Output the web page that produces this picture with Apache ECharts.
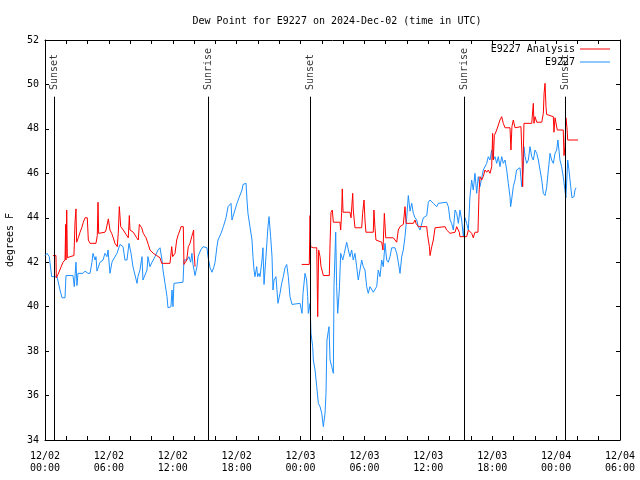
<!DOCTYPE html>
<html><head><meta charset="utf-8">
<script src="https://cdn.jsdelivr.net/npm/echarts@6/dist/echarts.min.js"></script>
<style>html,body{margin:0;padding:0;background:#fff}#c{width:640px;height:480px}</style>
</head><body><div id="c"></div>
<script>
// hours since 2024-12-02 00:00 UTC, dew point (deg F)
const station = [[0,42.3],[0.19,42.4],[0.40,42.25],[0.63,41.35],[1.13,41.35],[1.41,40.75],[1.60,40.4],[1.88,40.4],[1.97,41.4],[2.63,41.4],[2.75,40.9],[2.91,42.0],[3.0,40.95],[3.10,41.5],[3.57,41.5],[3.76,41.6],[4.04,41.5],[4.23,41.5],[4.41,42.0],[4.51,42.4],[4.70,42.1],[4.79,42.25],[4.88,41.6],[5.17,42.0],[5.45,42.1],[5.63,42.4],[5.82,42.25],[5.92,42.55],[6.10,41.5],[6.29,42.0],[6.39,42.1],[6.76,42.4],[7.04,42.8],[7.33,42.7],[7.51,42.1],[7.70,42.1],[7.89,42.85],[8.08,42.4],[8.26,41.8],[8.64,41.05],[8.73,41.35],[8.92,41.65],[9.11,42.25],[9.20,41.2],[9.58,41.65],[9.67,42.25],[9.86,41.8],[10.05,42.0],[10.33,42.25],[10.61,42.55],[10.80,42.65],[10.99,42.1],[11.08,41.65],[11.27,41.05],[11.46,40.45],[11.55,39.95],[11.83,40.0],[11.93,40.75],[12.02,40.0],[12.11,41.05],[12.96,41.1],[13.05,42.1],[13.34,42.1],[13.52,42.25],[13.68,42.0],[13.80,42.4],[13.90,41.9],[14.09,41.4],[14.27,41.8],[14.37,42.25],[14.62,42.55],[14.84,42.7],[15.21,42.65],[15.31,42.25],[15.50,41.75],[15.68,41.55],[15.87,41.8],[15.97,42.0],[16.15,42.7],[16.25,43.0],[16.53,43.3],[16.75,43.6],[17.0,44.0],[17.19,44.5],[17.47,44.65],[17.56,43.9],[17.84,44.35],[18.03,44.65],[18.22,44.9],[18.50,45.25],[18.60,45.5],[18.88,45.55],[18.97,44.8],[19.06,44.2],[19.25,43.6],[19.44,43.0],[19.53,42.25],[19.63,41.65],[19.72,41.35],[19.88,41.8],[19.97,41.35],[20.10,41.5],[20.19,41.35],[20.38,42.1],[20.47,42.65],[20.57,41.0],[20.75,42.25],[20.94,43.6],[21.04,44.05],[21.19,43.15],[21.32,42.25],[21.41,40.75],[21.51,41.2],[21.69,41.35],[21.88,40.15],[22.07,40.6],[22.23,41.05],[22.38,41.35],[22.54,41.75],[22.70,41.9],[22.85,41.35],[23.01,40.45],[23.20,40.1],[23.32,40.15],[23.95,40.15],[24.14,39.7],[24.23,40.6],[24.42,41.5],[24.57,41.2],[24.67,40.45],[24.73,39.7],[24.89,40.15],[24.98,38.8],[25.14,38.2],[25.20,37.6],[25.36,37.15],[25.52,36.4],[25.67,35.65],[25.83,35.5],[25.99,35.2],[26.14,34.6],[26.30,35.2],[26.39,36.1],[26.48,38.5],[26.67,39.1],[26.77,37.6],[26.93,37.3],[27.08,37.0],[27.14,40.9],[27.30,43.35],[27.39,40.9],[27.49,39.7],[27.64,40.75],[27.77,42.4],[27.96,42.1],[28.11,42.4],[28.33,42.9],[28.49,42.55],[28.64,42.25],[28.80,42.55],[28.95,42.1],[29.11,42.4],[29.27,41.8],[29.42,41.2],[29.58,41.65],[29.74,42.1],[29.89,41.8],[30.05,41.65],[30.21,40.9],[30.36,40.6],[30.52,40.9],[30.83,40.65],[30.99,40.6],[31.15,40.9],[31.30,41.65],[31.46,41.35],[31.62,42.1],[31.77,41.8],[31.93,42.85],[32.09,42.1],[32.24,42.0],[32.40,42.25],[32.56,42.65],[32.87,42.65],[33.03,42.4],[33.18,42.0],[33.34,41.5],[33.50,42.25],[33.65,42.55],[33.81,43.15],[33.97,44.0],[34.12,45.0],[34.28,44.3],[34.44,44.65],[34.59,44.2],[34.75,44.0],[34.91,43.9],[35.06,43.6],[35.22,43.45],[35.53,44.0],[35.85,44.1],[36.0,44.7],[36.16,44.8],[36.47,44.65],[36.79,44.5],[36.94,44.65],[37.10,44.7],[37.72,44.7],[37.88,44.5],[38.04,43.9],[38.19,43.75],[38.35,43.45],[38.51,44.35],[38.66,44.2],[38.82,43.75],[38.97,44.35],[39.13,43.9],[39.29,43.15],[39.44,44.0],[39.60,43.75],[39.76,43.45],[39.91,44.95],[40.07,45.7],[40.22,45.25],[40.38,46.0],[40.54,45.1],[40.69,45.85],[40.85,45.4],[41.16,46.15],[41.48,46.45],[41.63,46.75],[41.79,46.6],[41.95,47.05],[42.10,46.6],[42.26,46.75],[42.42,46.45],[42.57,46.75],[42.73,46.3],[42.89,46.75],[43.04,46.45],[43.20,46.6],[43.36,46.15],[43.51,45.55],[43.67,44.95],[43.73,44.5],[43.82,44.8],[43.98,45.4],[44.14,45.7],[44.29,46.15],[44.61,46.25],[44.77,45.4],[44.92,46.3],[44.98,47.2],[45.08,46.75],[45.24,46.45],[45.39,46.6],[45.55,47.2],[45.71,46.75],[45.86,46.6],[46.02,47.05],[46.18,46.9],[46.33,46.6],[46.49,46.15],[46.65,45.7],[46.80,45.1],[46.96,45.0],[47.11,45.35],[47.27,46.15],[47.43,46.9],[47.58,46.6],[47.74,46.45],[47.90,46.9],[48.05,47.05],[48.17,47.5],[48.36,46.6],[48.52,46.3],[48.67,45.85],[48.83,45.25],[48.92,44.9],[49.09,46.6],[49.21,46.15],[49.37,45.4],[49.49,44.9],[49.68,44.95],[49.77,45.25],[49.87,45.35]];

const analysis = [[0.75,42.3],[1.03,42.3],[1.06,41.3],[1.22,41.45],[1.69,42.0],[1.88,42.1],[1.94,43.7],[1.97,42.1],[2.04,44.35],[2.10,42.2],[2.35,42.25],[2.72,42.3],[2.82,43.8],[2.91,44.4],[2.97,42.9],[3.13,43.1],[3.29,43.35],[3.45,43.55],[3.60,43.8],[3.76,44.0],[3.97,44.0],[4.07,43.0],[4.23,42.85],[4.79,42.85],[4.91,43.2],[4.98,44.7],[5.04,43.3],[5.17,43.35],[5.63,43.35],[5.73,43.45],[5.95,43.95],[6.10,43.45],[6.26,43.3],[6.41,43.1],[6.57,42.85],[6.79,42.7],[6.88,43.3],[6.98,44.5],[7.11,43.6],[7.35,43.45],[7.61,43.25],[7.82,43.1],[7.92,44.1],[7.98,43.45],[8.29,43.35],[8.61,43.1],[8.76,43.0],[8.86,43.7],[9.08,43.55],[9.23,43.3],[9.49,43.1],[9.70,42.8],[9.86,42.55],[10.17,42.4],[10.33,42.4],[10.49,42.3],[10.80,42.2],[10.96,41.95],[11.74,41.95],[11.90,42.7],[11.99,42.25],[12.21,42.4],[12.37,43.0],[12.52,43.25],[12.68,43.45],[12.77,43.6],[12.99,43.6],[13.05,41.9],[13.31,42.1],[13.46,42.7],[13.62,42.85],[13.78,43.15],[13.90,43.35],[13.96,43.45],[13.99,42.55],[14.09,41.8],
[19,null],
[24.11,41.9],[24.82,41.9],[24.89,44.1],[24.95,42.7],[25.20,42.65],[25.52,42.65],[25.61,39.55],[25.70,42.55],[25.83,42.25],[25.92,41.8],[26.01,41.65],[26.14,41.4],[26.70,41.4],[26.77,42.85],[26.86,44.25],[26.98,44.35],[27.08,43.8],[27.70,43.8],[27.77,43.45],[27.86,44.25],[27.92,45.3],[27.99,44.25],[28.64,44.25],[28.74,44.0],[28.90,45.1],[28.95,44.35],[29.11,43.55],[29.74,43.55],[29.83,44.2],[29.96,44.8],[30.05,43.9],[30.14,43.35],[30.83,43.35],[30.89,44.35],[30.99,43.55],[31.08,43.0],[31.62,42.9],[31.74,42.55],[31.87,44.2],[32.0,43.1],[32.71,43.1],[33.03,42.9],[33.18,43.45],[33.34,43.6],[33.65,43.7],[33.81,44.5],[33.91,43.75],[34.59,43.75],[34.75,43.9],[34.84,43.75],[35.06,43.6],[35.85,43.6],[35.91,43.3],[36.0,43.0],[36.10,42.7],[36.16,42.3],[36.32,42.7],[36.47,43.0],[36.63,43.55],[36.79,43.6],[37.57,43.6],[37.72,43.45],[38.04,43.3],[38.51,43.35],[38.66,43.6],[38.82,43.6],[38.91,43.35],[38.97,43.15],[39.60,43.15],[39.76,43.45],[39.91,43.45],[40.07,43.3],[40.22,43.1],[40.38,43.35],[40.66,43.35],[40.76,45.1],[40.85,45.85],[41.01,45.7],[41.16,45.85],[41.32,46.15],[41.48,46.05],[41.63,46.15],[41.79,46.0],[41.95,46.3],[42.04,47.8],[42.10,46.6],[42.20,47.7],[42.26,47.65],[42.42,47.95],[42.57,47.95],[42.73,48.4],[42.89,48.55],[43.04,48.25],[43.20,48.05],[43.67,48.05],[43.76,47.05],[43.85,48.1],[43.98,48.4],[44.14,48.05],[44.70,48.1],[44.80,46.75],[44.86,45.4],[44.92,46.9],[44.98,48.25],[45.71,48.25],[45.86,49.15],[45.92,48.25],[46.02,48.55],[46.18,48.3],[46.33,48.25],[46.65,48.3],[46.80,48.7],[46.87,49.6],[46.96,50.05],[47.05,49.0],[47.11,48.65],[47.74,48.55],[47.80,47.85],[47.90,48.5],[48.05,48.5],[48.11,47.95],[48.67,47.95],[48.74,46.8],[48.83,47.2],[48.92,48.5],[49.02,48.05],[49.09,47.5],[49.87,47.5],[50.06,47.5]];

const sunHours = [0.9, 15.35, 24.9, 39.35, 48.9];
const sunNames = ['Sunset', 'Sunrise', 'Sunset', 'Sunrise', 'Sunset'];
const xTickLabels = ['12/02\n00:00','12/02\n06:00','12/02\n12:00','12/02\n18:00','12/03\n00:00','12/03\n06:00','12/03\n12:00','12/03\n18:00','12/04\n00:00','12/04\n06:00'];
const seriesNames = ['E9227 Analysis', 'E9227'];
const titleText = 'Dew Point for E9227 on 2024-Dec-02 (time in UTC)';

const FONT = 'DejaVu Sans Mono';
const chart = echarts.init(document.getElementById('c'), null, {renderer: 'canvas'});
const axisCommon = {
  min: 0, max: 54, interval: 2, type: 'value',
  axisLine: {show: true, onZero: false, lineStyle: {color: '#000', width: 1}},
  axisTick: {show: true, inside: true, length: 4, lineStyle: {color: '#000'}},
  splitLine: {show: false}
};
const yCommon = {
  min: 34, max: 52, interval: 2, type: 'value',
  axisLine: {show: true, onZero: false, lineStyle: {color: '#000', width: 1}},
  axisTick: {show: true, inside: true, length: 4, lineStyle: {color: '#000'}},
  splitLine: {show: false}
};
chart.setOption({
  animation: false,
  backgroundColor: '#fff',
  title: {text: titleText, left: 332, top: 11, textAlign: 'center',
    textStyle: {fontFamily: FONT, fontSize: 10, fontWeight: 'normal', color: '#000'}},
  legend: {
    data: seriesNames, orient: 'vertical', right: 30, top: 43, align: 'right', padding: 0,
    icon: 'rect', itemWidth: 30, itemHeight: 1, itemGap: 1,
    textStyle: {fontFamily: FONT, fontSize: 10, color: '#000', lineHeight: 12}
  },
  grid: {left: 45, right: 20, top: 40, bottom: 40, containLabel: false, outerBoundsMode: 'none'},
  xAxis: [
    Object.assign({}, axisCommon, {position: 'bottom',
      axisLabel: {show: true, fontFamily: FONT, fontSize: 10, color: '#000', margin: 10, lineHeight: 12,
        formatter: v => (v % 6 === 0 ? xTickLabels[v / 6] : '')}}),
    Object.assign({}, axisCommon, {position: 'top', axisLabel: {show: false}})
  ],
  yAxis: [
    Object.assign({}, yCommon, {position: 'left', name: 'degrees F', nameLocation: 'middle', nameGap: 30,
      nameTextStyle: {fontFamily: FONT, fontSize: 10, color: '#000'},
      axisLabel: {show: true, fontFamily: FONT, fontSize: 10, color: '#000', margin: 6}}),
    Object.assign({}, yCommon, {position: 'right', axisLabel: {show: false}})
  ],
  series: [
    {name: seriesNames[0], type: 'line', data: analysis, showSymbol: false, symbol: 'none',
      connectNulls: false, lineStyle: {color: '#ff0000', width: 1}, itemStyle: {color: '#ff0000'}, z: 3},
    {name: seriesNames[1], type: 'line', data: station, showSymbol: false, symbol: 'none',
      lineStyle: {color: '#1e90ff', width: 1}, itemStyle: {color: '#1e90ff'}, z: 2,
      markLine: {silent: true, symbol: 'none', label: {show: false},
        lineStyle: {color: '#000', width: 1, type: 'solid'},
        data: sunHours.map(h => [{coord: [h, 34]}, {coord: [h, 49.45]}])}},
    {name: 'sun', type: 'scatter', symbolSize: 0, z: 4,
      data: sunHours.map((h, i) => [h, 49.75, sunNames[i]]),
      label: {show: true, formatter: p => p.data[2], rotate: 90, position: [0, 0], align: 'left', verticalAlign: 'middle',
        fontFamily: FONT, fontSize: 10, color: '#000'}}
  ]
});
</script></body></html>
